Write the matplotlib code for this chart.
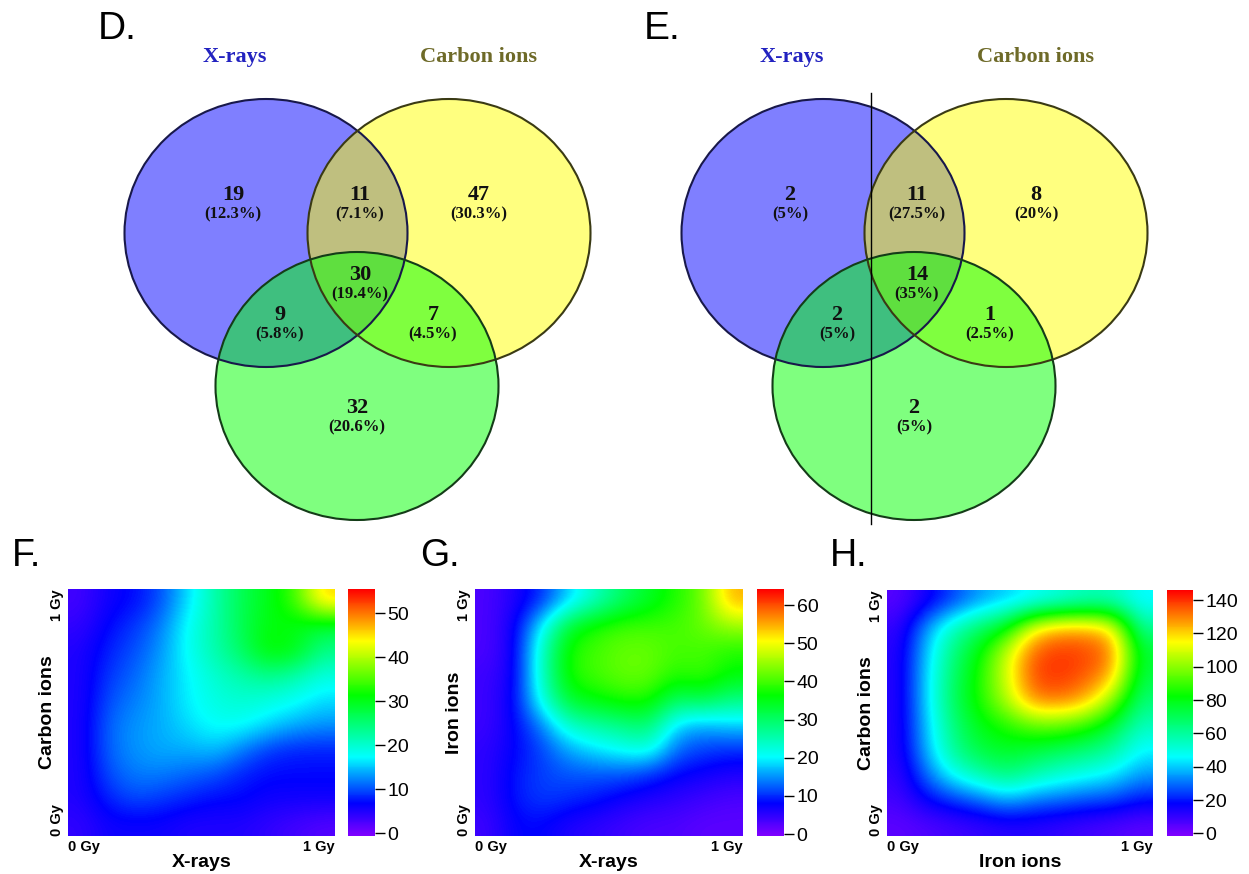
import numpy as np
import matplotlib
matplotlib.use('Agg')
import matplotlib.pyplot as plt
from matplotlib.patches import Ellipse
from matplotlib.colors import LinearSegmentedColormap

W, H = 1249, 874

# venn counts, regions: X only, X&C, C only, all three, X&3rd, C&3rd, 3rd only
venn_d_counts = [19, 11, 47, 30, 9, 7, 32]
venn_e_counts = [2, 11, 8, 14, 2, 1, 2]
set_labels = ['X-rays', 'Carbon ions']

# heatmaps, rows from 1 Gy (top) to 0 Gy (bottom), cols 0 Gy -> 1 Gy
heat_f = [
    [3, 6, 7, 10, 16, 22, 27, 30, 34, 46],
    [4, 7, 9, 12, 18, 22, 27, 31, 30, 28],
    [5, 8, 10, 13, 18, 22, 26, 32, 31, 24],
    [5, 9, 11, 14, 17, 20, 22, 24, 22, 19],
    [5, 10, 12, 14, 17, 19, 20, 19, 18, 16],
    [5, 11, 13, 14, 16, 18, 18, 16, 14, 13],
    [5, 11, 13, 14, 14, 15, 12, 9, 8, 8],
    [5, 10, 12, 12, 11, 10, 8, 7, 7, 7],
    [5, 8, 10, 9, 8, 7, 7, 6, 6, 6],
    [4, 6, 6, 6, 5, 5, 5, 4, 3, 2],
]
heat_g = [
    [3, 6, 10, 18, 24, 30, 34, 38, 42, 55],
    [3, 7, 20, 34, 38, 40, 40, 40, 42, 45],
    [3, 7, 24, 38, 40, 42, 42, 40, 40, 38],
    [4, 7, 24, 38, 40, 42, 42, 38, 40, 36],
    [4, 8, 22, 34, 36, 38, 38, 30, 32, 28],
    [4, 8, 14, 24, 26, 28, 30, 18, 16, 18],
    [5, 8, 11, 16, 19, 21, 23, 13, 11, 10],
    [5, 9, 11, 12, 12, 12, 10, 8, 7, 6],
    [5, 9, 11, 10, 9, 7, 6, 5, 4, 3],
    [4, 8, 8, 6, 5, 4, 3, 3, 2, 2],
]
heat_h = [
    [5, 15, 25, 35, 40, 45, 50, 55, 55, 45],
    [10, 35, 55, 68, 80, 115, 125, 125, 118, 60],
    [12, 40, 65, 82, 108, 135, 140, 138, 132, 75],
    [12, 42, 68, 86, 110, 138, 140, 135, 125, 72],
    [12, 42, 70, 86, 105, 130, 132, 125, 100, 65],
    [12, 40, 65, 80, 86, 95, 95, 88, 75, 55],
    [12, 38, 62, 74, 78, 74, 70, 66, 60, 45],
    [10, 30, 48, 58, 66, 58, 52, 48, 44, 35],
    [8, 18, 24, 30, 38, 32, 30, 27, 26, 20],
    [4, 6, 8, 10, 12, 12, 10, 8, 6, 4],
]
cbar_f = [0, 10, 20, 30, 40, 50]
cbar_g = [0, 10, 20, 30, 40, 50, 60]
cbar_h = [0, 20, 40, 60, 80, 100, 120, 140]

plt.rcParams['font.family'] = ['Liberation Sans', 'DejaVu Sans']

fig = plt.figure(figsize=(W / 100, H / 100), dpi=100)
fig.patch.set_facecolor('white')

# full-figure axes in pixel coords for the venns and panel letters
ax = fig.add_axes([0, 0, 1, 1])
ax.set_xlim(0, W)
ax.set_ylim(H, 0)
ax.axis('off')

serif = 'Liberation Serif'


def fmt_pct(c, total):
    p = round(c / total * 100, 1)
    return '({}%)'.format(('%.1f' % p).rstrip('0').rstrip('.'))


def draw_venn(ax, counts, dx):
    centers = [(266, 233), (449, 233), (357, 386)]
    fills = ['#0000ff', '#ffff00', '#00ff00']
    edges = ['#18184a', '#3a3a14', '#143c18']
    for (cx, cy), fc in zip(centers, fills):
        ax.add_patch(Ellipse((cx + dx, cy), 283, 268, facecolor=fc, alpha=0.5, lw=0))
    for (cx, cy), ec in zip(centers, edges):
        ax.add_patch(Ellipse((cx + dx, cy), 283, 268, fill=False, edgecolor=ec, lw=1.5))

    ax.text(235 + dx, 57, set_labels[0], family=serif, weight='bold', fontsize=16,
            color='#2222c0', ha='center', va='center')
    ax.text(479 + dx, 57, set_labels[1], family=serif, weight='bold', fontsize=16,
            color='#6e6a28', ha='center', va='center')

    pos = [(233, 195), (360, 195), (479, 195), (360, 275), (280, 315), (433, 315), (357, 408)]
    total = sum(counts)
    for c, (x, y) in zip(counts, pos):
        ax.text(x + dx, y, str(c), family=serif, weight='bold', fontsize=16,
                ha='center', va='center', color='#111111')
        ax.text(x + dx, y + 19, fmt_pct(c, total), family=serif, weight='bold',
                fontsize=12, ha='center', va='center', color='#111111')


draw_venn(ax, venn_d_counts, 0)
draw_venn(ax, venn_e_counts, 557)
ax.plot([871, 871], [93, 524], color='black', lw=1.0)

for letter, x, y, fs in [('D.', 98, 39, 28), ('E.', 644, 39, 28),
                          ('F.', 12, 566, 27), ('G.', 420, 566, 27), ('H.', 830, 566, 27)]:
    ax.text(x, y, letter, fontsize=fs, ha='left', va='baseline', color='black')

cmap = LinearSegmentedColormap.from_list(
    'rb', [(0, '#7f00ff'), (0.13, '#0000ff'), (0.32, '#00ffff'),
           (0.57, '#00ff00'), (0.79, '#ffff00'), (1, '#ff0000')])


def px_axes(x0, y0, x1, y1):
    return fig.add_axes([x0 / W, 1 - y1 / H, (x1 - x0) / W, (y1 - y0) / H])


def draw_heat(data, box, cbox, vmin, vmax, ticks, xlabel, ylabel):
    hax = px_axes(*box)
    im = hax.imshow(np.array(data, dtype=float), cmap=cmap, vmin=vmin, vmax=vmax,
                    interpolation='bicubic', aspect='auto', extent=[0, 1, 0, 1])
    for s in hax.spines.values():
        s.set_visible(False)
    hax.set_xticks([0, 1])
    hax.set_xticklabels(['0 Gy', '1 Gy'], fontsize=10.5, weight='bold')
    hax.get_xticklabels()[0].set_ha('left')
    hax.get_xticklabels()[1].set_ha('right')
    hax.set_yticks([0, 1])
    hax.set_yticklabels(['0 Gy', '1 Gy'], fontsize=10.5, weight='bold', rotation=90)
    hax.get_yticklabels()[0].set_va('bottom')
    hax.get_yticklabels()[1].set_va('top')
    hax.tick_params(length=0, pad=3)
    hax.set_xlabel(xlabel, fontsize=14, weight='bold', labelpad=0)
    hax.set_ylabel(ylabel, fontsize=14, weight='bold', labelpad=-4.5)

    cax = px_axes(*cbox)
    cb = fig.colorbar(im, cax=cax)
    cb.outline.set_visible(False)
    cb.set_ticks(ticks)
    cax.tick_params(length=7, width=1, labelsize=14, pad=2)


draw_heat(heat_f, (68, 589, 335, 836), (348, 589, 375, 836), -0.6, 55.5, cbar_f,
          'X-rays', 'Carbon ions')
draw_heat(heat_g, (475, 589, 743, 836), (757, 589, 784, 836), -0.5, 64.2, cbar_g,
          'X-rays', 'Iron ions')
draw_heat(heat_h, (887, 590, 1153, 836), (1167, 590, 1193, 836), -1.5, 146, cbar_h,
          'Iron ions', 'Carbon ions')

fig.savefig('out.png', dpi=100)
